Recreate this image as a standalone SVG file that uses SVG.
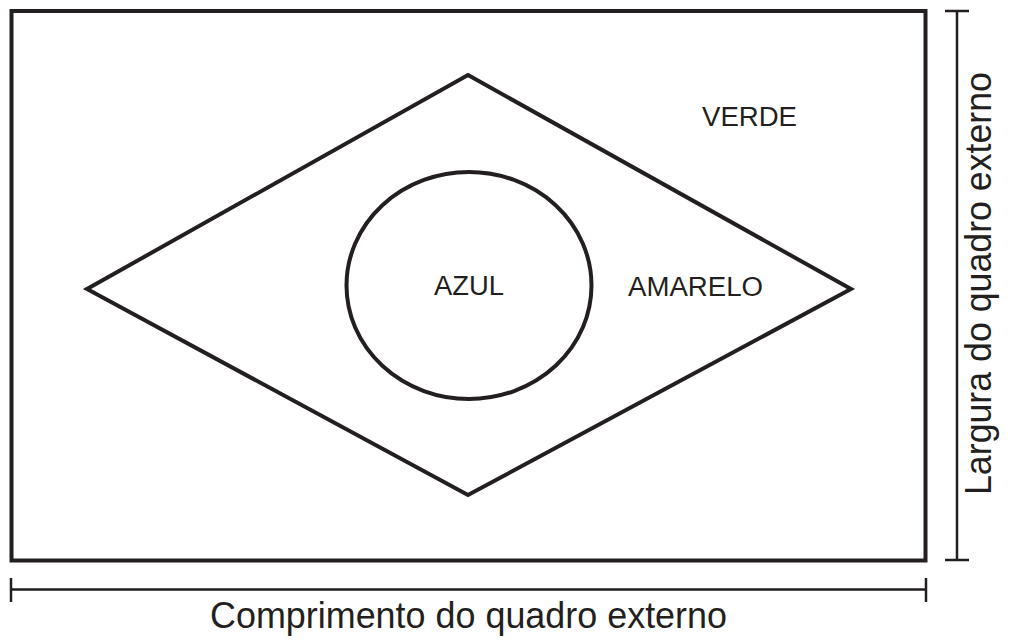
<svg xmlns="http://www.w3.org/2000/svg" width="1011" height="641" viewBox="0 0 1011 641">
  <style>
    .shape { fill: none; stroke: #231f20; stroke-width: 4; stroke-linejoin: miter; }
    .dim { fill: none; stroke: #231f20; stroke-width: 2.5; }
    .lbl { font-family: "Liberation Sans", Arial, sans-serif; font-size: 27px; fill: #231f20; text-anchor: middle; }
    .dimlbl { font-family: "Liberation Sans", Arial, sans-serif; font-size: 37px; fill: #231f20; text-anchor: middle; }
  </style>
  <rect width="1011" height="641" fill="#ffffff"/>
  <g id="outer-frame">
    <rect class="shape" x="11.5" y="11" width="914" height="549.5"/>
    <text class="lbl" x="749.5" y="126" textLength="95" lengthAdjust="spacingAndGlyphs">VERDE</text>
  </g>
  <g id="diamond">
    <polygon class="shape" points="468,75 851,289 468,495 87,289"/>
    <text class="lbl" x="695.5" y="296" textLength="135" lengthAdjust="spacingAndGlyphs">AMARELO</text>
  </g>
  <g id="circle">
    <ellipse class="shape" cx="469" cy="285.5" rx="122.5" ry="113.5"/>
    <text class="lbl" x="469" y="295" textLength="70" lengthAdjust="spacingAndGlyphs">AZUL</text>
  </g>
  <g id="connectors">
    <g id="dim-length">
      <line class="dim" x1="11" y1="589.5" x2="926" y2="589.5"/>
      <line class="dim" x1="11" y1="578" x2="11" y2="602"/>
      <line class="dim" x1="926" y1="578" x2="926" y2="602"/>
    </g>
    <g id="dim-width">
      <line class="dim" x1="957" y1="11" x2="957" y2="560"/>
      <line class="dim" x1="945" y1="11" x2="969" y2="11"/>
      <line class="dim" x1="945" y1="560" x2="969" y2="560"/>
    </g>
  </g>
  <g id="label-length">
    <text class="dimlbl" x="468.5" y="628" textLength="517" lengthAdjust="spacingAndGlyphs">Comprimento do quadro externo</text>
  </g>
  <g id="label-width">
    <text class="dimlbl" transform="translate(991,283.5) rotate(-90)" x="0" y="0" textLength="423" lengthAdjust="spacingAndGlyphs">Largura do quadro externo</text>
  </g>
</svg>
